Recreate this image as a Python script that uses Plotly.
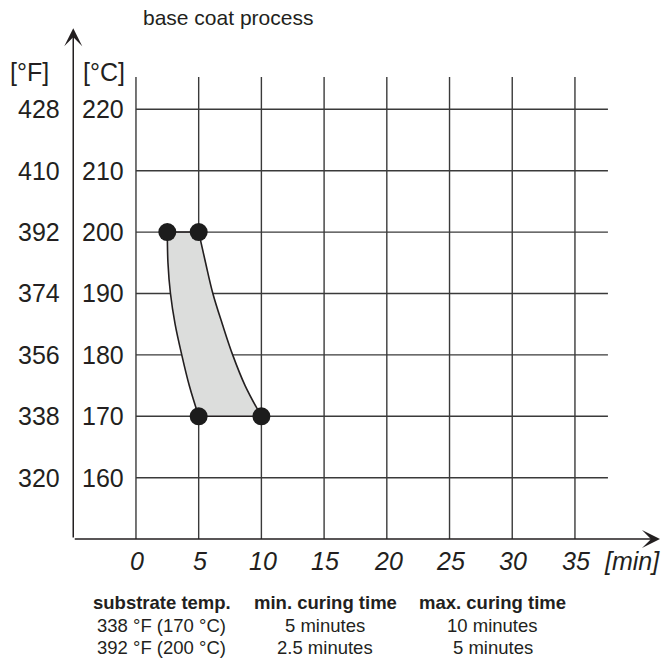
import plotly.graph_objects as go

# ---- data ----
title_text = "base coat process"
x_ticks = [0, 5, 10, 15, 20, 25, 30, 35]
x_unit = "[min]"
c_ticks = [160, 170, 180, 190, 200, 210, 220]
f_ticks = [320, 338, 356, 374, 392, 410, 428]
c_unit = "[°C]"
f_unit = "[°F]"

# curing window boundaries (temp °C -> minutes)
curve_temps = [200, 195, 190, 185, 180, 175, 170]
min_time = [2.5, 2.55, 2.75, 3.12, 3.65, 4.25, 5.0]
max_time = [5.0, 5.55, 6.13, 6.89, 7.71, 8.7, 10.0]

corner_time = [2.5, 5.0, 5.0, 10.0]
corner_temp = [200, 200, 170, 170]

table_header = ["substrate temp.", "min. curing time", "max. curing time"]
table_rows = [
    ["338 °F (170 °C)", "5 minutes", "10 minutes"],
    ["392 °F (200 °C)", "2.5 minutes", "5 minutes"],
]

# ---- styling / layout constants ----
FONT = "Liberation Sans, Arial, sans-serif"
TXT = "#231f20"
GRID = "#3a3a3a"
X0, X1 = -5.1, 41.94
Y0, Y1 = 149.85, 234.54
AX_X, AX_Y = -5.0, 150.0
GRID_XMAX = 37.63
GRID_YMAX = 225.26


def px(v):
    return (v - X0) / (X1 - X0)


def py(v):
    return (v - Y0) / (Y1 - Y0)


fig = go.Figure()

fill_x = list(min_time) + list(reversed(max_time))
fill_y = list(curve_temps) + list(reversed(curve_temps))
fig.add_trace(go.Scatter(x=fill_x, y=fill_y, fill="toself", fillcolor="#dcdddc",
                         mode="lines", line=dict(width=0),
                         hoverinfo="skip", showlegend=False))
for times in (min_time, max_time):
    fig.add_trace(go.Scatter(x=times, y=curve_temps, mode="lines",
                             line=dict(color=TXT, width=1.6, shape="spline"),
                             hoverinfo="skip", showlegend=False))
fig.add_trace(go.Scatter(x=[min_time[0], max_time[0]], y=[curve_temps[0]] * 2, mode="lines",
                         line=dict(color=TXT, width=1.6), showlegend=False, hoverinfo="skip"))
fig.add_trace(go.Scatter(x=[min_time[-1], max_time[-1]], y=[curve_temps[-1]] * 2, mode="lines",
                         line=dict(color=TXT, width=1.6), showlegend=False, hoverinfo="skip"))
fig.add_trace(go.Scatter(x=corner_time, y=corner_temp, mode="markers",
                         marker=dict(size=18, color="#1c1c1c"), showlegend=False))

shapes = []
for xv in x_ticks:
    shapes.append(dict(type="line", xref="x", yref="y", x0=xv, x1=xv, y0=AX_Y, y1=GRID_YMAX,
                       line=dict(color=GRID, width=1.4), layer="below"))
for yv in c_ticks:
    shapes.append(dict(type="line", xref="x", yref="y", x0=0, x1=GRID_XMAX, y0=yv, y1=yv,
                       line=dict(color=GRID, width=1.4), layer="below"))

ann = []
ann.append(dict(x=41.78, y=AX_Y, ax=AX_X, ay=AX_Y, xref="x", yref="y", axref="x", ayref="y",
                text="", showarrow=True, arrowhead=3, arrowsize=2, arrowwidth=1.5, arrowcolor=TXT,
                standoff=0, startstandoff=0))
ann.append(dict(x=AX_X, y=233.2, ax=AX_X, ay=AX_Y, xref="x", yref="y", axref="x", ayref="y",
                text="", showarrow=True, arrowhead=3, arrowsize=2, arrowwidth=1.5, arrowcolor=TXT,
                standoff=0, startstandoff=0))


def label(x, y, text, size=25, anchor="center"):
    ann.append(dict(x=px(x), y=py(y), xref="paper", yref="paper", text=text, showarrow=False,
                    xanchor=anchor, yanchor="middle", borderpad=0,
                    font=dict(family=FONT, size=size, color=TXT)))


for c, f in zip(c_ticks, f_ticks):
    label(-0.9, c, str(c), anchor="right")
    label(-6.0, c, str(f), anchor="right")
label(-2.51, 226.1, c_unit)
label(-8.49, 226.1, f_unit)

for xv in x_ticks:
    label(xv + 0.1, 146.5, "<i>%d</i>" % xv)
label(39.58, 146.5, "<i>%s</i>" % x_unit)

label(7.33, 235.0, title_text, size=21)

col_x = [2.07, 15.11, 28.46]
head_y = 139.6
row_y = [136.0, 132.4]
for cx, h in zip(col_x, table_header):
    label(cx, head_y, "<b>%s</b>" % h, size=18.5)
for ry, row in zip(row_y, table_rows):
    for cx, cell in zip(col_x, row):
        label(cx, ry, cell, size=18.5)

fig.update_layout(
    width=664, height=660,
    margin=dict(l=72, r=2, t=20, b=120),
    paper_bgcolor="white", plot_bgcolor="white",
    xaxis=dict(range=[X0, X1], visible=False, fixedrange=True),
    yaxis=dict(range=[Y0, Y1], visible=False, fixedrange=True),
    shapes=shapes, annotations=ann, showlegend=False,
)

fig.write_html("out.html", config={"displayModeBar": False, "staticPlot": True},
               post_script="document.body.style.margin='0';document.body.style.overflow='hidden';")
